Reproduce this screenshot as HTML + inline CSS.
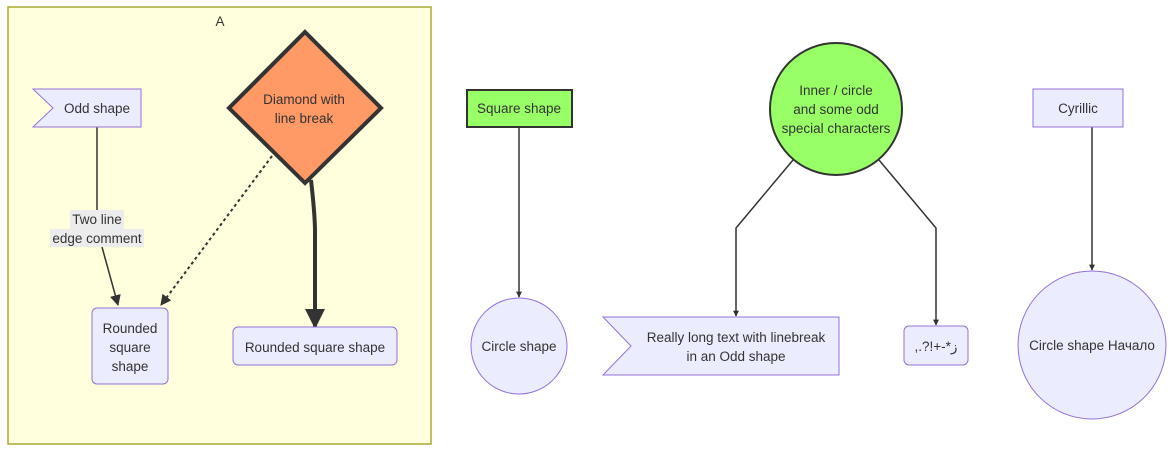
<!DOCTYPE html>
<html><head><meta charset="utf-8"><style>
html,body{margin:0;padding:0;background:#fff;}
svg text{font-family:"Liberation Sans","DejaVu Sans",sans-serif;font-size:13.5px;fill:#333;text-anchor:middle;}
</style></head><body>
<svg width="1173" height="451" viewBox="0 0 1173 451" xmlns="http://www.w3.org/2000/svg">
<defs>
<marker id="a" viewBox="0 0 10 10" refX="9" refY="5" markerWidth="6" markerHeight="6" orient="auto" markerUnits="userSpaceOnUse"><path d="M0,0L10,5L0,10z" fill="#333"/></marker>
<marker id="ab" viewBox="0 0 10 10" refX="9" refY="5" markerWidth="20" markerHeight="20" orient="auto" markerUnits="userSpaceOnUse"><path d="M0,0L10,5L0,10z" fill="#333"/></marker>
<marker id="as" viewBox="0 0 10 10" refX="9" refY="5" markerWidth="11" markerHeight="11" orient="auto" markerUnits="userSpaceOnUse"><path d="M0,0L10,5L0,10z" fill="#333"/></marker>
</defs>
<rect x="8" y="7" width="423" height="437" fill="#ffffde" stroke="#aaaa33" stroke-width="1.5"/>
<text x="220" y="26">A</text>

<path d="M97,127 L97,210" stroke="#333" stroke-width="1.5" fill="none"/>
<path d="M102,247 L118,305" stroke="#333" stroke-width="1.5" fill="none" marker-end="url(#as)"/>
<rect x="70" y="210" width="54" height="19" fill="#ececec"/>
<rect x="50" y="229" width="94" height="18" fill="#ececec"/>
<text x="97" y="224">Two line</text>
<text x="97" y="243">edge comment</text>
<path d="M272,156 L161,305" stroke="#333" stroke-width="2" stroke-dasharray="3,3" fill="none" marker-end="url(#as)"/>
<path d="M311,180 Q315,215 315,232 L315,327" stroke="#333" stroke-width="4" fill="none" marker-end="url(#ab)"/>
<path d="M519,127 L519,297" stroke="#333" stroke-width="1.5" fill="none" marker-end="url(#a)"/>
<path d="M793,160 L736,228 L736,316" stroke="#333" stroke-width="1.5" fill="none" marker-end="url(#a)"/>
<path d="M879,160 L936,228 L936,325" stroke="#333" stroke-width="1.5" fill="none" marker-end="url(#a)"/>
<path d="M1092,127 L1092,270" stroke="#333" stroke-width="1.5" fill="none" marker-end="url(#a)"/>

<path d="M33,89 L141,89 L141,127 L33,127 L53,108 Z" fill="#ececff" stroke="#9370db" stroke-width="1"/>
<text x="97" y="113">Odd shape</text>

<path d="M305,32 L381,108 L305,183 L229,108 Z" fill="#ff9966" stroke="#333" stroke-width="4"/>
<text x="304" y="104">Diamond with</text>
<text x="304" y="123">line break</text>

<rect x="92" y="308" width="76" height="76" rx="5" fill="#ececff" stroke="#9370db"/>
<text x="130" y="333">Rounded</text>
<text x="130" y="352">square</text>
<text x="130" y="371">shape</text>

<rect x="233" y="327" width="164" height="38" rx="5" fill="#ececff" stroke="#9370db"/>
<text x="315" y="352">Rounded square shape</text>

<rect x="467" y="90" width="105" height="37" fill="#99ff66" stroke="#333" stroke-width="2"/>
<text x="519" y="113">Square shape</text>

<circle cx="519" cy="346" r="48" fill="#ececff" stroke="#9370db"/>
<text x="519" y="351">Circle shape</text>

<circle cx="836" cy="109" r="66" fill="#99ff66" stroke="#333" stroke-width="2"/>
<text x="836" y="95">Inner / circle</text>
<text x="836" y="114">and some odd</text>
<text x="836" y="133">special characters</text>

<path d="M603,317 L839,317 L839,375 L603,375 L631,346 Z" fill="#ececff" stroke="#9370db"/>
<text x="736" y="342">Really long text with linebreak</text>
<text x="736" y="361">in an Odd shape</text>

<rect x="904" y="326" width="64" height="39" rx="5" fill="#ececff" stroke="#9370db"/>
<text x="936" y="351" direction="rtl" style="text-anchor:middle">ز*-+!?.,</text>

<rect x="1033" y="89" width="90" height="38" fill="#ececff" stroke="#9370db"/>
<text x="1078" y="113">Cyrillic</text>

<circle cx="1092" cy="345" r="74" fill="#ececff" stroke="#9370db"/>
<text x="1092" y="350">Circle shape Начало</text>
</svg>
</body></html>
